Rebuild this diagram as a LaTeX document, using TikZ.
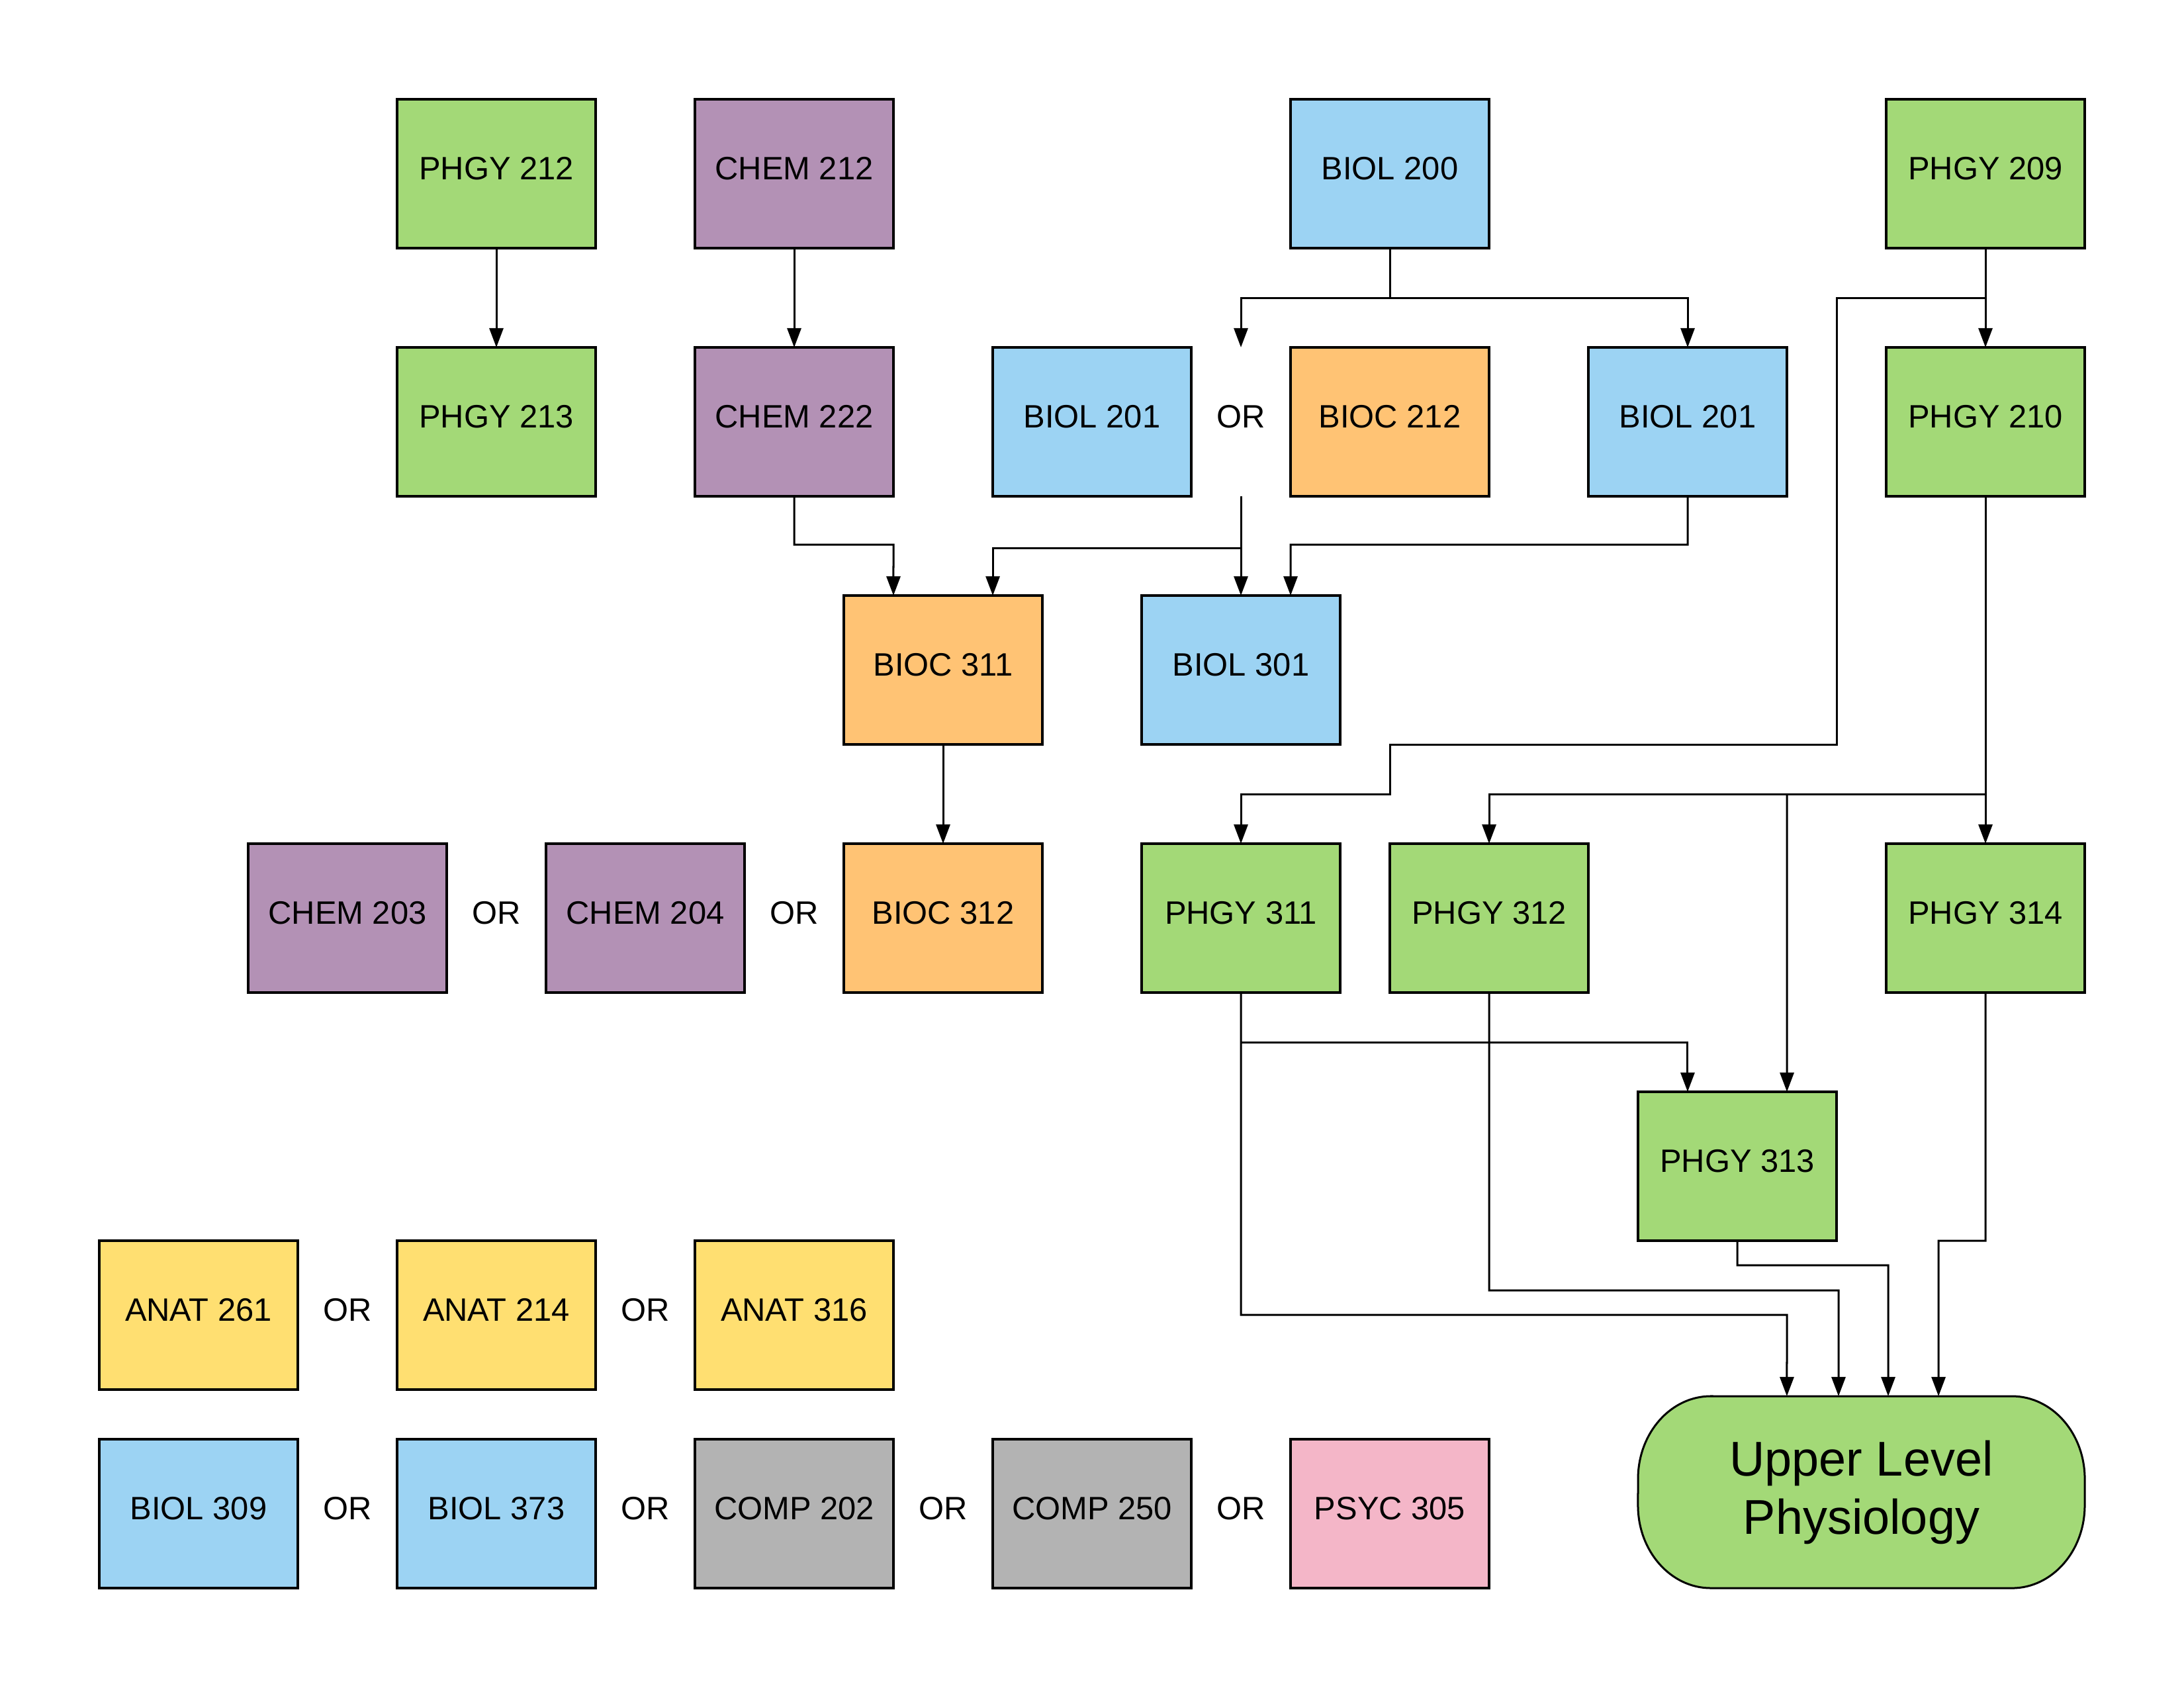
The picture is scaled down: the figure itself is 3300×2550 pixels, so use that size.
\documentclass[tikz,border=0pt]{standalone}
\usepackage{fontspec}
\setmainfont{Liberation Sans}
\usetikzlibrary{arrows.meta}
\definecolor{cgreen}{HTML}{A3D977}
\definecolor{cpurple}{HTML}{B391B5}
\definecolor{cblue}{HTML}{9CD3F3}
\definecolor{corange}{HTML}{FFC374}
\definecolor{cyellow}{HTML}{FFDF71}
\definecolor{cgray}{HTML}{B3B3B3}
\definecolor{cpink}{HTML}{F4B6C8}
\tikzset{
  course/.style={draw=black, line width=0.04cm, rectangle, minimum width=3cm, minimum height=2.25cm,
    inner sep=0pt, outer sep=0pt, text height=0.34cm, text depth=0.16cm, font=\fontsize{13.9}{16}\selectfont},
  ortext/.style={inner sep=0pt, outer sep=0pt, text height=0.34cm, text depth=0.16cm, font=\fontsize{13.9}{16}\selectfont},
  orbox/.style={ortext, minimum width=1.5cm, minimum height=2.25cm},
  conn/.style={line width=0.03cm, draw=black},
  arr/.style={conn, -{Triangle[length=0.29cm, width=0.21cm]}},
}
\begin{document}
\begin{tikzpicture}[x=0.01cm, y=-0.01cm]
\useasboundingbox[fill=white] (0,0) rectangle (3300,2550);
% Row 1
\node[course, fill=cgreen]  (p212) at (750,262.5)  {PHGY 212};
\node[course, fill=cpurple] (c212) at (1200,262.5) {CHEM 212};
\node[course, fill=cblue]   (b200) at (2100,262.5) {BIOL 200};
\node[course, fill=cgreen]  (p209) at (3000,262.5) {PHGY 209};
% Row 2
\node[course, fill=cgreen]  (p213) at (750,637.5)  {PHGY 213};
\node[course, fill=cpurple] (c222) at (1200,637.5) {CHEM 222};
\node[course, fill=cblue]   (b201a) at (1650,637.5) {BIOL 201};
\node[orbox] (or1) at (1875,637.5) {OR};
\node[course, fill=corange] (bc212) at (2100,637.5) {BIOC 212};
\node[course, fill=cblue]   (b201b) at (2550,637.5) {BIOL 201};
\node[course, fill=cgreen]  (p210) at (3000,637.5) {PHGY 210};
% Row 3
\node[course, fill=corange] (bc311) at (1425,1012.5) {BIOC 311};
\node[course, fill=cblue]   (b301) at (1875,1012.5) {BIOL 301};
% Row 4
\node[course, fill=cpurple] (c203) at (525,1387.5) {CHEM 203};
\node[ortext] (or2) at (750,1387.5) {OR};
\node[course, fill=cpurple] (c204) at (975,1387.5) {CHEM 204};
\node[ortext] (or3) at (1200,1387.5) {OR};
\node[course, fill=corange] (bc312) at (1425,1387.5) {BIOC 312};
\node[course, fill=cgreen]  (p311) at (1875,1387.5) {PHGY 311};
\node[course, fill=cgreen]  (p312) at (2250,1387.5) {PHGY 312};
\node[course, fill=cgreen]  (p314) at (3000,1387.5) {PHGY 314};
% Row 5
\node[course, fill=cgreen]  (p313) at (2625,1762.5) {PHGY 313};
% Row 6
\node[course, fill=cyellow] (a261) at (300,1987.5) {ANAT 261};
\node[ortext] (or4) at (525,1987.5) {OR};
\node[course, fill=cyellow] (a214) at (750,1987.5) {ANAT 214};
\node[ortext] (or5) at (975,1987.5) {OR};
\node[course, fill=cyellow] (a316) at (1200,1987.5) {ANAT 316};
% Row 7
\node[course, fill=cblue]   (b309) at (300,2287.5) {BIOL 309};
\node[ortext] (or6) at (525,2287.5) {OR};
\node[course, fill=cblue]   (b373) at (750,2287.5) {BIOL 373};
\node[ortext] (or7) at (975,2287.5) {OR};
\node[course, fill=cgray]   (cp202) at (1200,2287.5) {COMP 202};
\node[ortext] (or8) at (1425,2287.5) {OR};
\node[course, fill=cgray]   (cp250) at (1650,2287.5) {COMP 250};
\node[ortext] (or9) at (1875,2287.5) {OR};
\node[course, fill=cpink]   (ps305) at (2100,2287.5) {PSYC 305};
% Upper Level Physiology (terminator shape)
\fill[cgreen, draw=black, line width=0.03cm]
  (2585,2110) -- (3040,2110)
  arc[start angle=90, end angle=0, x radius=1.1cm, y radius=1.25cm]
  -- (3150,2275)
  arc[start angle=0, end angle=-90, x radius=1.1cm, y radius=1.25cm]
  -- (2585,2400)
  arc[start angle=270, end angle=180, x radius=1.1cm, y radius=1.25cm]
  -- (2475,2235)
  arc[start angle=180, end angle=90, x radius=1.1cm, y radius=1.25cm]
  -- cycle;
\node[inner sep=0pt, outer sep=0pt, minimum width=6.75cm, minimum height=2.9cm,
  align=center, font=\fontsize{21}{25}\selectfont] (ulp) at (2812.5,2255) {Upper Level\\Physiology};
% Connectors
\draw[arr] (p212.south) -- (p213.north);
\draw[arr] (c212.south) -- (c222.north);
\draw[arr] (b200.south) |- (1875,450) -- (or1.north);
\draw[arr] (2100,450) -| (b201b.north);
\draw[arr] (p209.south) -- (p210.north);
\draw[arr] (3000,450) -| (2775,1125) -| (2100,1200) -| (p311.north);
\draw[arr] (c222.south) |- (1350,823) -- ([xshift=-0.75cm]bc311.north);
\draw[arr] (or1.south) -- (b301.north);
\draw[arr] (1875,828) -| ([xshift=0.75cm]bc311.north);
\draw[arr] (b201b.south) |- (1950,823) -- ([xshift=0.75cm]b301.north);
\draw[arr] (bc311.south) -- (bc312.north);
\draw[arr] (p210.south) -- (p314.north);
\draw[arr] (3000,1200) -| (p312.north);
\draw[arr] (2700,1200) -- ([xshift=0.75cm]p313.north);
\draw[arr] (1875,1575) -| ([xshift=-0.75cm]p313.north);
\draw[arr] (p311.south) |- (2700,1987) -- ([xshift=-1.125cm]ulp.north);
\draw[arr] (p312.south) |- (2778,1950) -- ([xshift=-0.345cm]ulp.north);
\draw[arr] (p313.south) |- (2853,1912) -- ([xshift=0.405cm]ulp.north);
\draw[arr] (p314.south) |- (2929,1875) -- ([xshift=1.165cm]ulp.north);
\end{tikzpicture}
\end{document}
